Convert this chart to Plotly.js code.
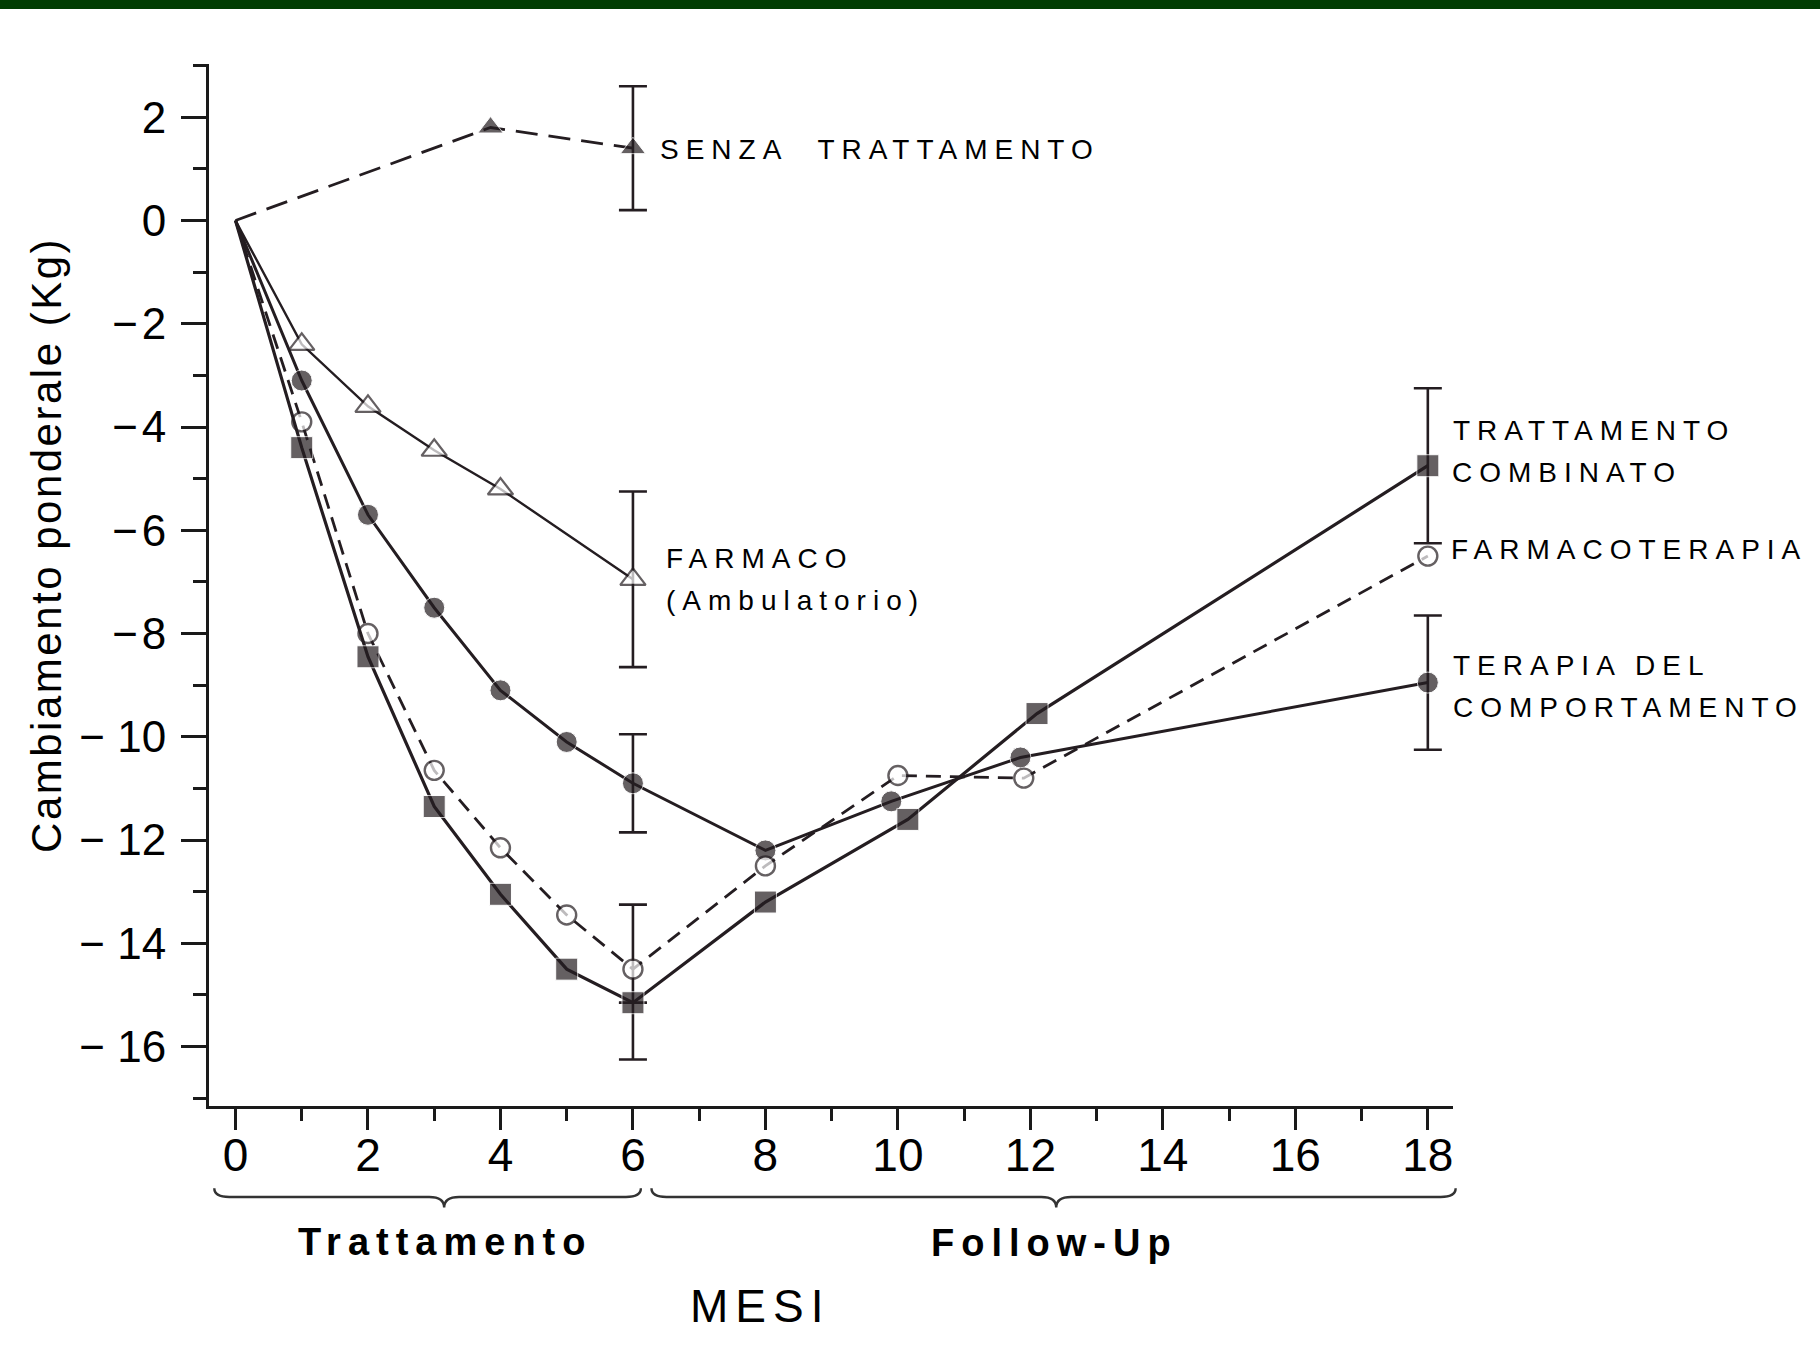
<!DOCTYPE html>
<html><head><meta charset="utf-8">
<script src="https://cdn.plot.ly/plotly-3.0.1.min.js"></script>
<style>
html,body{margin:0;padding:0;background:#fff;}
#chart{width:1820px;height:1366px;}
.annotation-text{letter-spacing:7px;}
.annotation[data-index="11"] .annotation-text{letter-spacing:2.5px;}
</style></head><body><div id="chart"></div>
<script>
// ---- data ----
const months_senza = [0, 3.85, 6];
const kg_senza = [0, 1.8, 1.4];
const err_senza = [NaN, NaN, 1.2];

const months_farmaco_amb = [0, 1, 2, 3, 4, 6];
const kg_farmaco_amb = [0, -2.4, -3.6, -4.45, -5.2, -6.95];
const err_farmaco_amb = [NaN, NaN, NaN, NaN, NaN, 1.7];

const months_comport = [0, 1, 2, 3, 4, 5, 6, 8, 9.9, 11.85, 18];
const kg_comport = [0, -3.1, -5.7, -7.5, -9.1, -10.1, -10.9, -12.2, -11.25, -10.4, -8.95];
const err_comport = [NaN, NaN, NaN, NaN, NaN, NaN, 0.95, NaN, NaN, NaN, 1.3];

const months_farmacoterapia = [0, 1, 2, 3, 4, 5, 6, 8, 10, 11.9, 18];
const kg_farmacoterapia = [0, -3.9, -8.0, -10.65, -12.15, -13.45, -14.5, -12.5, -10.75, -10.8, -6.5];
const err_farmacoterapia_plus = [NaN, NaN, NaN, NaN, NaN, NaN, 1.25, NaN, NaN, NaN, NaN];
const err_farmacoterapia_minus = [NaN, NaN, NaN, NaN, NaN, NaN, 0.65, NaN, NaN, NaN, NaN];

const months_combinato = [0, 1, 2, 3, 4, 5, 6, 8, 10.15, 12.1, 18];
const kg_combinato = [0, -4.4, -8.45, -11.35, -13.05, -14.5, -15.15, -13.2, -11.6, -9.55, -4.75];
const err_combinato_plus = [NaN, NaN, NaN, NaN, NaN, NaN, 0, NaN, NaN, NaN, 1.5];
const err_combinato_minus = [NaN, NaN, NaN, NaN, NaN, NaN, 1.1, NaN, NaN, NaN, 1.5];

const x_tick_vals = [0, 2, 4, 6, 8, 10, 12, 14, 16, 18];
const x_tick_text = ["0", "2", "4", "6", "8", "10", "12", "14", "16", "18"];
const y_tick_vals = [2, 0, -2, -4, -6, -8, -10, -12, -14, -16];
const y_tick_text = ["2", "0", "\u2212\u200a2", "\u2212\u200a4", "\u2212\u200a6", "\u2212\u200a8", "\u2212 10", "\u2212 12", "\u2212 14", "\u2212 16"];

const phase_labels = ["Trattamento", "Follow-Up"];
const phase_start = [-0.32, 6.28];
const phase_tip = [3.15, 12.39];
const phase_end = [6.12, 18.42];

// ---- styling ----
const INK = '#241d21';
const X_RANGE = [-0.4, 18.38];
const Y_RANGE = [-17.15, 3.03];
const FONT = '"Liberation Sans", Arial, Helvetica, sans-serif';

function hideFirst(arr, size) { return arr.map((v, i) => i === 0 ? 0 : size); }
function errBar(plus, minus) {
  return {type: 'data', symmetric: false, array: plus, arrayminus: minus,
          color: INK, thickness: 2.6, width: 14, visible: true};
}

const traces = [
  {name: 'SENZA TRATTAMENTO', x: months_senza, y: kg_senza, mode: 'lines+markers',
   line: {color: INK, width: 2.8, dash: '22px,11px'},
   marker: {symbol: 'triangle-up', color: INK, size: hideFirst(kg_senza, 22)},
   error_y: errBar(err_senza, err_senza)},
  {name: 'FARMACO (Ambulatorio)', x: months_farmaco_amb, y: kg_farmaco_amb, mode: 'lines+markers',
   line: {color: INK, width: 2.4},
   marker: {symbol: 'triangle-up', color: '#ffffff', size: hideFirst(kg_farmaco_amb, 22), line: {color: INK, width: 2.2}},
   error_y: errBar(err_farmaco_amb, err_farmaco_amb)},
  {name: 'TERAPIA DEL COMPORTAMENTO', x: months_comport, y: kg_comport, mode: 'lines+markers',
   line: {color: INK, width: 3},
   marker: {symbol: 'circle', color: INK, size: hideFirst(kg_comport, 21)},
   error_y: errBar(err_comport, err_comport)},
  {name: 'FARMACOTERAPIA', x: months_farmacoterapia, y: kg_farmacoterapia, mode: 'lines+markers',
   line: {color: INK, width: 2.8, dash: '15px,9px'},
   marker: {symbol: 'circle', color: '#ffffff', size: hideFirst(kg_farmacoterapia, 19), line: {color: INK, width: 2.4}},
   error_y: errBar(err_farmacoterapia_plus, err_farmacoterapia_minus)},
  {name: 'TRATTAMENTO COMBINATO', x: months_combinato, y: kg_combinato, mode: 'lines+markers',
   line: {color: INK, width: 3.2},
   marker: {symbol: 'square', color: INK, size: hideFirst(kg_combinato, 22)},
   error_y: errBar(err_combinato_plus, err_combinato_minus)}
];

function xp(m) { return (m - X_RANGE[0]) / (X_RANGE[1] - X_RANGE[0]); }

// curly braces under the x axis
const Y_LINE = -0.0873, Y_END = -0.0790, Y_TIP = -0.0975;
const shapes = [];
phase_labels.forEach((lab, i) => {
  const a = xp(phase_start[i]), b = xp(phase_end[i]), m = xp(phase_tip[i]), d = 0.012;
  const p = `M ${a},${Y_END} Q ${a},${Y_LINE} ${a + d},${Y_LINE} L ${m - d},${Y_LINE} ` +
            `Q ${m},${Y_LINE} ${m},${Y_TIP} Q ${m},${Y_LINE} ${m + d},${Y_LINE} ` +
            `L ${b - d},${Y_LINE} Q ${b},${Y_LINE} ${b},${Y_END}`;
  shapes.push({type: 'path', xref: 'paper', yref: 'paper', path: p,
               line: {color: '#333', width: 2.4}});
});
// dark green band at the top of the slide
shapes.push({type: 'rect', xref: 'paper', yref: 'paper', x0: -0.2, x1: 1.3, y0: 1.0528, y1: 1.07,
             fillcolor: '#013d02', line: {width: 0}, layer: 'below'});

const labFont = {family: FONT, size: 28, color: '#000'};
const annotations = [
  {text: 'SENZA\u00a0 TRATTAMENTO', x: 0.3609, y: 0.9175, xanchor: 'left', font: labFont},
  {text: 'FARMACO', x: 0.3658, y: 0.5259, xanchor: 'left', font: labFont},
  {text: '(Ambulatorio)', x: 0.3658, y: 0.4856, xanchor: 'left', font: labFont},
  {text: 'TRATTAMENTO', x: 0.9985, y: 0.6478, xanchor: 'left', font: labFont},
  {text: 'COMBINATO', x: 0.9975, y: 0.6084, xanchor: 'left', font: labFont},
  {text: 'FARMACOTERAPIA', x: 0.9970, y: 0.5345, xanchor: 'left', font: labFont},
  {text: 'TERAPIA DEL', x: 0.9985, y: 0.4232, xanchor: 'left', font: labFont},
  {text: 'COMPORTAMENTO', x: 0.9985, y: 0.3820, xanchor: 'left', font: labFont},
  {text: phase_labels[0], x: 0.1897, y: -0.1305, xanchor: 'center',
   font: {family: FONT, size: 38, color: '#000', weight: 700}},
  {text: phase_labels[1], x: 0.6793, y: -0.1315, xanchor: 'center',
   font: {family: FONT, size: 38, color: '#000', weight: 700}},
  {text: 'MESI', x: 0.4429, y: -0.1919, xanchor: 'center',
   font: {family: FONT, size: 46, color: '#000'}},
  {text: 'Cambiamento ponderale (Kg)', x: -0.131, y: 0.538, xanchor: 'center', textangle: -90,
   font: {family: FONT, size: 42, color: '#000'}}
].map(a => Object.assign({xref: 'paper', yref: 'paper', yanchor: 'middle', showarrow: false}, a));

const layout = {
  width: 1820, height: 1366,
  margin: {l: 209, r: 367, t: 64, b: 260},
  paper_bgcolor: '#ffffff', plot_bgcolor: '#ffffff',
  showlegend: false, hovermode: false,
  xaxis: {range: X_RANGE, tickmode: 'array', tickvals: x_tick_vals, ticktext: x_tick_text,
          showgrid: false, zeroline: false, showline: true, linecolor: '#1a1a1a', linewidth: 3,
          ticks: 'outside', ticklen: 21, tickwidth: 3, tickcolor: '#1a1a1a', ticklabelstandoff: -14,
          tickfont: {family: FONT, size: 46, color: '#000'},
          minor: {tickmode: 'linear', tick0: 0, dtick: 1, ticks: 'outside', ticklen: 12, tickwidth: 3, tickcolor: '#1a1a1a'}},
  yaxis: {range: Y_RANGE, tickmode: 'array', tickvals: y_tick_vals, ticktext: y_tick_text,
          showgrid: false, zeroline: false, showline: true, linecolor: '#1a1a1a', linewidth: 3,
          ticks: 'outside', ticklen: 25, tickwidth: 3, tickcolor: '#1a1a1a', ticklabelstandoff: 6,
          tickfont: {family: FONT, size: 44, color: '#000'},
          minor: {tickmode: 'linear', tick0: 0, dtick: 1, ticks: 'outside', ticklen: 13, tickwidth: 3, tickcolor: '#1a1a1a'}},
  shapes: shapes,
  annotations: annotations
};

Plotly.newPlot('chart', traces, layout, {staticPlot: true, displayModeBar: false});
</script></body></html>
